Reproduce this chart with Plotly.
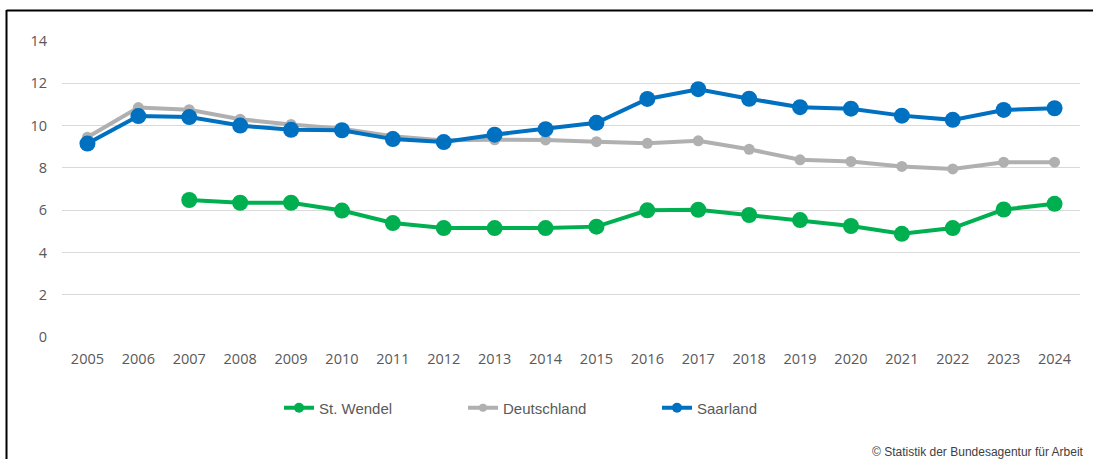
import plotly.graph_objects as go

years = [str(y) for y in range(2005, 2025)]
st_wendel = [None, None, 6.48, 6.35, 6.35, 5.98, 5.39, 5.15, 5.15, 5.15, 5.22, 5.99, 6.02, 5.77, 5.53, 5.25, 4.88, 5.15, 6.03, 6.3]
deutschland = [9.45, 10.85, 10.75, 10.3, 10.05, 9.85, 9.5, 9.3, 9.33, 9.32, 9.24, 9.16, 9.28, 8.88, 8.38, 8.3, 8.07, 7.95, 8.27, 8.27]
saarland = [9.15, 10.45, 10.4, 10.0, 9.8, 9.78, 9.36, 9.22, 9.57, 9.83, 10.13, 11.26, 11.72, 11.27, 10.87, 10.8, 10.47, 10.27, 10.74, 10.82]
y_ticks = [0, 2, 4, 6, 8, 10, 12, 14]

GREEN = "#00B050"
GRAY = "#B0B0B0"
BLUE = "#0070C0"

series = [
    ("St. Wendel", st_wendel, GREEN, 16, 10, "legend"),
    ("Deutschland", deutschland, GRAY, 11, 8, "legend2"),
    ("Saarland", saarland, BLUE, 16, 10, "legend3"),
]

fig = go.Figure()
for name, vals, col, msize, lsize, lg in series:
    fig.add_trace(go.Scatter(x=years, y=vals, name=name, mode="lines+markers", showlegend=False,
                             line=dict(color=col, width=4), marker=dict(color=col, size=msize)))
for name, vals, col, msize, lsize, lg in series:
    # legend-only entry with the smaller legend symbol
    fig.add_trace(go.Scatter(x=[years[0]], y=[None], name=name, mode="lines+markers", legend=lg,
                             showlegend=True, hoverinfo="skip",
                             line=dict(color=col, width=4), marker=dict(color=col, size=lsize)))

L, R, T, B = 62, 13, 41, 122
W, H = 1093, 459
pw, ph = W - L - R, H - T - B

def px(xp):
    return (xp - L) / pw

def py(yp):
    return (H - B - yp) / ph

legfont = dict(family="Liberation Sans, Arial, sans-serif", size=15, color="#595959")

def leg(xp):
    return dict(orientation="h", x=px(xp), y=py(408), xanchor="left", yanchor="middle",
                font=legfont, itemwidth=30, bgcolor="rgba(0,0,0,0)")

fig.update_layout(
    width=W, height=H,
    margin=dict(l=L, r=R, t=T, b=B, autoexpand=False),
    paper_bgcolor="white", plot_bgcolor="white",
    font=dict(family="Open Sans, Liberation Sans, sans-serif", color="#595959", size=13),
    showlegend=True,
    legend=leg(279),
    legend2=leg(463),
    legend3=leg(657),
    xaxis=dict(type="category", range=[-0.5, 19.5], showgrid=False, zeroline=False,
               showline=False, ticks="", ticklabelstandoff=11,
               tickfont=dict(family="Open Sans, sans-serif", size=14.5, color="#595959")),
    yaxis=dict(range=[0, 14], tickvals=y_ticks, showgrid=True, gridcolor="#D9D9D9", gridwidth=1,
               zeroline=False, showline=False, ticks="", ticklabelstandoff=14,
               tickfont=dict(family="Open Sans, sans-serif", size=14.5, color="#595959")),
)

fig.add_shape(type="line", xref="paper", yref="paper", x0=px(6.5), x1=px(1100), y0=py(10.5), y1=py(10.5),
              line=dict(color="black", width=2))
fig.add_shape(type="line", xref="paper", yref="paper", x0=px(6.5), x1=px(6.5), y0=py(10), y1=py(470),
              line=dict(color="black", width=2))

fig.add_annotation(text="© Statistik der Bundesagentur für Arbeit", xref="paper", yref="paper",
                   x=px(1086), y=py(452), xanchor="right", yanchor="middle", showarrow=False,
                   font=dict(family="Liberation Sans, Arial, sans-serif", size=12, color="#404040"))

fig.write_html("out.html", config={"displayModeBar": False},
               post_script="document.body.style.margin='0';document.body.style.overflow='hidden';")
